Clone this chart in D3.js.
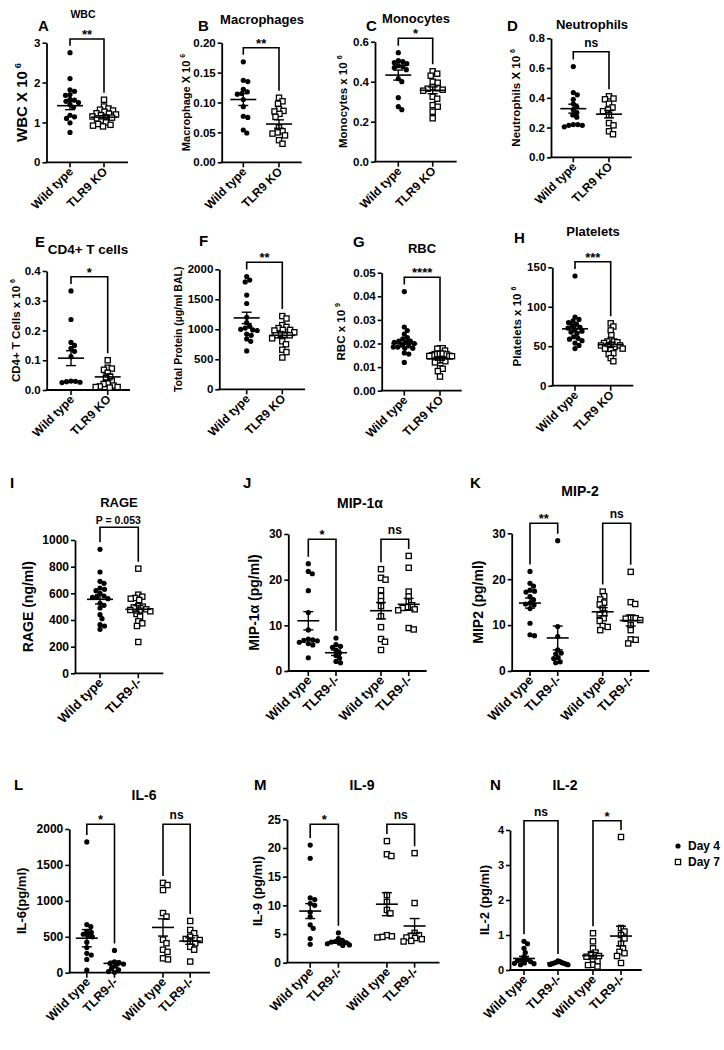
<!DOCTYPE html>
<html><head><meta charset="utf-8">
<script src="https://cdn.jsdelivr.net/npm/d3@7"></script>
<style>
body{margin:0;background:#fff}
svg{display:block}
text{font-family:"Liberation Sans",Arial,sans-serif;font-weight:bold;fill:#000}
</style>
</head><body>
<svg id="fig" width="724" height="1050"></svg>
<script>
// ---------------- DATA ----------------
const catsKO = ["Wild type", "TLR9 KO"];
const catsMinus = ["Wild type", "TLR9-/-"];
const catsFour = ["Wild type", "TLR9-/-", "Wild type", "TLR9-/-"];
const dayLegend = ["Day 4", "Day 7"];

const wbcWT = [2.75, 2.1, 1.82, 1.78, 1.7, 1.68, 1.58, 1.56, 1.53, 1.5, 1.45, 1.38, 1.18, 1.14, 1.1, 0.99, 0.75];
const wbcKO = [1.57, 1.4, 1.35, 1.32, 1.3, 1.27, 1.23, 1.22, 1.2, 1.18, 1.15, 1.13, 1.12, 1.1, 1.05, 1.0, 0.96, 0.94, 0.92, 0.9];
const wbcMean = [1.42, 1.13], wbcSem = [0.1, 0.04];
const wbcTicks = [0, 1, 2, 3];

const macWT = [0.168, 0.137, 0.135, 0.122, 0.118, 0.115, 0.114, 0.105, 0.093, 0.077, 0.075, 0.054, 0.049];
const macKO = [0.108, 0.102, 0.098, 0.089, 0.086, 0.085, 0.081, 0.076, 0.058, 0.052, 0.05, 0.048, 0.045, 0.037, 0.031];
const macMean = [0.105, 0.064], macSem = [0.01, 0.007];
const macTicks = [0, 0.05, 0.1, 0.15, 0.2];

const monoWT = [0.545, 0.505, 0.5, 0.495, 0.49, 0.48, 0.475, 0.47, 0.46, 0.415, 0.4, 0.32, 0.275, 0.26];
const monoKO = [0.452, 0.44, 0.43, 0.4, 0.395, 0.372, 0.367, 0.365, 0.36, 0.355, 0.325, 0.315, 0.283, 0.275, 0.25, 0.217];
const monoMean = [0.433, 0.357], monoSem = [0.025, 0.017];
const monoTicks = [0, 0.2, 0.4, 0.6];

const neutWT = [0.61, 0.435, 0.42, 0.39, 0.36, 0.34, 0.32, 0.3, 0.285, 0.27, 0.22, 0.22, 0.215, 0.215, 0.205];
const neutKO = [0.41, 0.395, 0.39, 0.36, 0.335, 0.32, 0.31, 0.285, 0.23, 0.215, 0.175, 0.155];
const neutMean = [0.327, 0.29], neutSem = [0.03, 0.025];
const neutTicks = [0, 0.2, 0.4, 0.6, 0.8];

const cd4WT = [0.333, 0.237, 0.16, 0.15, 0.14, 0.13, 0.112, 0.03, 0.029, 0.028, 0.026, 0.025];
const cd4KO = [0.1, 0.075, 0.072, 0.068, 0.058, 0.045, 0.04, 0.03, 0.022, 0.02, 0.015, 0.012, 0.01, 0.01, 0.008];
const cd4Mean = [0.107, 0.044], cd4Sem = [0.025, 0.01];
const cd4Ticks = [0, 0.1, 0.2, 0.3, 0.4];

const protWT = [1880, 1820, 1790, 1570, 1430, 1200, 1110, 1050, 1020, 1000, 990, 980, 920, 900, 840, 800, 640];
const protKO = [1220, 1180, 1070, 1040, 1020, 990, 990, 980, 950, 920, 910, 900, 900, 850, 800, 750, 660, 620, 530];
const protMean = [1190, 900], protSem = [95, 40];
const protTicks = [0, 500, 1000, 1500, 2000];

const rbcWT = [0.042, 0.027, 0.0255, 0.024, 0.0225, 0.022, 0.021, 0.021, 0.0205, 0.0205, 0.02, 0.0195, 0.019, 0.0185, 0.0185, 0.018, 0.018, 0.016, 0.0155, 0.012];
const rbcKO = [0.018, 0.018, 0.0178, 0.017, 0.0158, 0.0157, 0.0156, 0.0155, 0.0154, 0.015, 0.0148, 0.0147, 0.0146, 0.013, 0.013, 0.0128, 0.0125, 0.012, 0.0095, 0.0093, 0.0083, 0.006];
const rbcMean = [0.0199, 0.0135], rbcSem = [0.0013, 0.0006];
const rbcTicks = [0, 0.01, 0.02, 0.03, 0.04, 0.05];

const pltWT = [139, 87, 84, 82, 80, 78, 76, 74, 73, 71, 69, 68, 66, 62, 60, 59, 57, 54, 51, 47];
const pltKO = [79, 75, 70, 64, 58, 56, 56, 55, 54, 52, 51, 51, 50, 49, 47, 47, 45, 41, 40, 35, 31];
const pltMean = [72, 52], pltSem = [4, 2.5];
const pltTicks = [0, 50, 100, 150];

const rageWT = [930, 760, 690, 675, 640, 630, 620, 600, 580, 575, 570, 560, 525, 510, 490, 440, 410, 365, 355, 330];
const rageKO = [785, 590, 575, 565, 560, 550, 505, 500, 495, 480, 475, 470, 465, 445, 425, 390, 375, 355, 235];
const rageMean = [555, 480], rageSem = [35, 28];
const rageTicks = [0, 200, 400, 600, 800, 1000];

const mip1aWT4 = [23.5, 21.8, 21.3, 17.6, 12.8, 9, 7, 6.8, 6.7, 6.6, 6.3, 6, 5.7, 2.9];
const mip1aKO4 = [7.2, 5.8, 5.4, 5.2, 4.6, 4, 3.4, 2.8, 2.1, 1.8];
const mip1aWT7 = [22.3, 20.4, 20, 17.7, 16.4, 15.3, 14.2, 12, 9.6, 7, 6.4, 4.6];
const mip1aKO7 = [25.2, 22.6, 17.4, 16.3, 15.2, 14.4, 14, 13.8, 13.5, 13.3, 9.4, 9.1];
const mip1aMean = [11, 4.0, 13.2, 14.6], mip1aSem = [2, 0.6, 1.8, 1.3];
const mipTicks = [0, 10, 20, 30];

const mip2WT4 = [21.7, 19.1, 18.5, 17.6, 17.4, 17.2, 16.2, 15.5, 14.8, 14.6, 14.4, 13.6, 10.4, 7.9, 7.7];
const mip2KO4 = [28.4, 9.7, 7.5, 4.6, 3.9, 3.7, 2.9, 2.7, 2.0, 1.8];
const mip2WT7 = [17.3, 16.3, 15.6, 14.9, 14.5, 13.6, 12.6, 12.2, 11.5, 10.9, 9.8, 9.6, 8.9];
const mip2KO7 = [21.6, 15, 14.6, 11.6, 11.5, 11.4, 11.1, 10, 8.9, 6.9, 6.8, 6.0];
const mip2Mean = [14.8, 7.2, 12.9, 11.0], mip2Sem = [1.1, 2.6, 0.9, 1.2];

const il6WT4 = [1820, 670, 640, 575, 560, 535, 515, 500, 425, 350, 270, 245, 185, 35];
const il6KO4 = [310, 150, 140, 130, 120, 90, 60, 40, 15, 5];
const il6WT7 = [1250, 1220, 1150, 830, 780, 460, 410, 320, 290, 200, 185];
const il6KO7 = [720, 595, 550, 500, 480, 470, 455, 430, 410, 360, 320, 155];
const il6Mean = [480, 130, 630, 440], il6Sem = [120, 30, 120, 45];
const il6Ticks = [0, 500, 1000, 1500, 2000];

const il9WT4 = [20.5, 18.2, 11.3, 11, 10.3, 10, 8.8, 8, 6.6, 6, 4.2, 3.2];
const il9KO4 = [5.2, 4.2, 3.9, 3.7, 3.6, 3.5, 3.4, 3.3, 3.1, 3.0];
const il9WT7 = [21.2, 18.9, 18.6, 11.8, 10.6, 9.2, 8.6, 4.8, 4.6, 4.5, 4.4];
const il9KO7 = [19.1, 10.4, 5.2, 4.8, 4.7, 4.4, 4.3, 4.1, 3.8, 3.7];
const il9Mean = [9.0, 3.6, 10.2, 6.4], il9Sem = [1.3, 0.2, 2.0, 1.3];
const il9Ticks = [0, 5, 10, 15, 20, 25];

const il2WT4 = [0.82, 0.75, 0.62, 0.5, 0.38, 0.3, 0.28, 0.27, 0.24, 0.2, 0.19, 0.18, 0.15];
const il2KO4 = [0.26, 0.24, 0.22, 0.21, 0.2, 0.19, 0.18, 0.17, 0.16, 0.15];
const il2WT7 = [1.05, 0.82, 0.62, 0.5, 0.45, 0.4, 0.38, 0.3, 0.25, 0.15, 0.14, 0.1];
const il2KO7 = [3.8, 1.2, 1.1, 1.0, 0.9, 0.75, 0.62, 0.52, 0.48, 0.4, 0.2];
const il2Mean = [0.33, 0.2, 0.41, 0.97], il2Sem = [0.06, 0.012, 0.09, 0.28];
const il2Ticks = [0, 1, 2, 3, 4];

// ---------------- LAYOUT ----------------
const f0 = d3.format("d"), f1 = d3.format(".1f"), f2 = d3.format(".2f");
const two = ["dot", "sq"], four = ["dot", "dot", "sq", "sq"];

const panels = [
 {L:"A", Lp:[38,31], title:"WBC", tp:[83,18], ts:10.5, yl:["WBC X 10","6"], ylx:22, yls:15,
  x0:46.5, x1:128, yTop:42.7, yBot:162.3, dom:[0,3], ticks:wbcTicks, fmt:f0, catX:[70,104], cats:catsKO,
  groups:[wbcWT, wbcKO], shapes:two, mean:wbcMean, sem:wbcSem, br:[{a:0,b:1,y:39,t:"**"}], cs:12, tk:11.5, mw:13, cap:12},
 {L:"B", Lp:[198,31], title:"Macrophages", tp:[262,24], ts:13, yl:["Macrophage X 10","6"], ylx:186, yls:11,
  x0:221.7, x1:301.7, yTop:42.7, yBot:162.3, dom:[0,0.2], ticks:macTicks, fmt:f2, catX:[243.3,279], cats:catsKO,
  groups:[macWT, macKO], shapes:two, mean:macMean, sem:macSem, br:[{a:0,b:1,y:47.7,t:"**"}], cs:12, tk:11.5, mw:13, cap:12},
 {L:"C", Lp:[366,31], title:"Monocytes", tp:[416,23], ts:13, yl:["Monocytes x 10","6"], ylx:343, yls:11.5,
  x0:375, x1:456.7, yTop:41.7, yBot:161.7, dom:[0,0.6], ticks:monoTicks, fmt:f1, catX:[398.3,432.7], cats:catsKO,
  groups:[monoWT, monoKO], shapes:two, mean:monoMean, sem:monoSem, br:[{a:0,b:1,y:38.3,t:"*"}], cs:12, tk:11.5, mw:13, cap:12},
 {L:"D", Lp:[507,31], title:"Neutrophils", tp:[592,29], ts:13, yl:["Neutrophils X 10","6"], ylx:516, yls:11.5,
  x0:551, x1:631.7, yTop:38.3, yBot:157.3, dom:[0,0.8], ticks:neutTicks, fmt:f1, catX:[573.3,609], cats:catsKO,
  groups:[neutWT, neutKO], shapes:two, mean:neutMean, sem:neutSem, br:[{a:0,b:1,y:51.7,t:"ns"}], cs:12, tk:11.5, mw:13, cap:12},

 {L:"E", Lp:[35,247], title:"CD4+ T cells", tp:[88,254], ts:13.5, yl:["CD4+ T Cells x 10","6"], ylx:16, yls:11.5,
  x0:46.7, x1:130, yTop:271, yBot:390, dom:[0,0.4], ticks:cd4Ticks, fmt:f1, catX:[71,107.7], cats:catsKO,
  groups:[cd4WT, cd4KO], shapes:two, mean:cd4Mean, sem:cd4Sem, br:[{a:0,b:1,y:276.7,t:"*"}], cs:12, tk:11.5, mw:13, cap:12},
 {L:"F", Lp:[199,246], title:"", tp:[0,0], ts:13, yl:["Total Protein (µg/ml BAL)",""], ylx:178, yls:10.5,
  x0:219.3, x1:305, yTop:269.3, yBot:389.3, dom:[0,2000], ticks:protTicks, fmt:f0, catX:[246.7,282.3], cats:catsKO,
  groups:[protWT, protKO], shapes:two, mean:protMean, sem:protSem, br:[{a:0,b:1,y:262.3,t:"**"}], cs:12, tk:11.5, mw:13, cap:12},
 {L:"G", Lp:[353,247], title:"RBC", tp:[422,253], ts:13, yl:["RBC x 10","9"], ylx:341, yls:11.5,
  x0:381.7, x1:461.7, yTop:272.7, yBot:390.7, dom:[0,0.05], ticks:rbcTicks, fmt:f2, catX:[404.3,440], cats:catsKO,
  groups:[rbcWT, rbcKO], shapes:two, mean:rbcMean, sem:rbcSem, br:[{a:0,b:1,y:277.3,t:"****"}], cs:12, tk:11.5, mw:13, cap:12},
 {L:"H", Lp:[514,243], title:"Platelets", tp:[593,236], ts:13, yl:["Platelets x 10","6"], ylx:517, yls:11.5,
  x0:552.3, x1:633.3, yTop:267.3, yBot:385.7, dom:[0,150], ticks:pltTicks, fmt:f0, catX:[575,610.7], cats:catsKO,
  groups:[pltWT, pltKO], shapes:two, mean:pltMean, sem:pltSem, br:[{a:0,b:1,y:261.7,t:"***"}], cs:12, tk:11.5, mw:13, cap:12},

 {L:"I", Lp:[10,488], title:"RAGE", tp:[119,507], ts:13, yl:["RAGE (ng/ml)",""], ylx:28, yls:14,
  x0:75, x1:163.3, yTop:540, yBot:673.3, dom:[0,1000], ticks:rageTicks, fmt:f0, catX:[100,138.3], cats:catsMinus,
  groups:[rageWT, rageKO], shapes:two, mean:rageMean, sem:rageSem, br:[{a:0,b:1,y:527.3,t:""}], cs:13, tk:12, mw:13, cap:12,
  extra:{t:"P = 0.053", x:118.3, y:524, s:10.5}},
 {L:"J", Lp:[243,488], title:"MIP-1α", tp:[360,508], ts:14, yl:["MIP-1α (pg/ml)",""], ylx:254, yls:14,
  x0:288.3, x1:426.7, yTop:534, yBot:671, dom:[0,30], ticks:mipTicks, fmt:f0, catX:[308.3,336,381,408.7], cats:catsFour,
  groups:[mip1aWT4, mip1aKO4, mip1aWT7, mip1aKO7], shapes:four, mean:mip1aMean, sem:mip1aSem,
  br:[{a:0,b:1,y:539.3,t:"*"},{a:2,b:3,y:539.3,t:"ns"}], cs:13, tk:12, mw:11, cap:11},
 {L:"K", Lp:[470,488], title:"MIP-2", tp:[580,496], ts:14, yl:["MIP2 (pg/ml)",""], ylx:478, yls:14,
  x0:511.7, x1:649.3, yTop:533.3, yBot:671, dom:[0,30], ticks:mipTicks, fmt:f0, catX:[530,557.7,602.7,630.7], cats:catsFour,
  groups:[mip2WT4, mip2KO4, mip2WT7, mip2KO7], shapes:four, mean:mip2Mean, sem:mip2Sem,
  br:[{a:0,b:1,y:523.3,t:"**"},{a:2,b:3,y:523.3,t:"ns"}], cs:13, tk:12, mw:11, cap:11},

 {L:"L", Lp:[14,790], title:"IL-6", tp:[144,800], ts:14, yl:["IL-6(pg/ml)",""], ylx:21, yls:13,
  x0:69.3, x1:210, yTop:829, yBot:972.7, dom:[0,2000], ticks:il6Ticks, fmt:f0, catX:[86.8,114.5,163,190.2], cats:catsFour,
  groups:[il6WT4, il6KO4, il6WT7, il6KO7], shapes:four, mean:il6Mean, sem:il6Sem,
  br:[{a:0,b:1,y:824.3,t:"*"},{a:2,b:3,y:824.3,t:"ns"}], cs:12.5, tk:12, mw:11, cap:11},
 {L:"M", Lp:[254,790], title:"IL-9", tp:[362,790], ts:14, yl:["IL-9 (pg/ml)",""], ylx:257, yls:13,
  x0:287, x1:439.5, yTop:819.3, yBot:962.7, dom:[0,25], ticks:il9Ticks, fmt:f0, catX:[310.2,338.4,386.9,414.6], cats:catsFour,
  groups:[il9WT4, il9KO4, il9WT7, il9KO7], shapes:four, mean:il9Mean, sem:il9Sem,
  br:[{a:0,b:1,y:824.3,t:"*"},{a:2,b:3,y:824.3,t:"ns"}], cs:12.5, tk:12, mw:11, cap:11},
 {L:"N", Lp:[490,790], title:"IL-2", tp:[565,790], ts:14, yl:["IL-2 (pg/ml)",""], ylx:484, yls:13,
  x0:510, x1:641.7, yTop:830, yBot:970, dom:[0,4], ticks:il2Ticks, fmt:f0, catX:[524,558,593,621], cats:catsFour,
  groups:[il2WT4, il2KO4, il2WT7, il2KO7], shapes:four, mean:il2Mean, sem:il2Sem,
  br:[{a:0,b:1,y:820.7,t:"ns"},{a:2,b:3,y:820.7,t:"*"}], cs:12.5, tk:11, mw:11, cap:10}
];

const svg = d3.select("#fig");
const DOT_R = 2.6, SQ = 5.2;

function swarm(vals, y, d, cap) {
  const pts = vals.map(v => ({v, py: y(v)})).sort((a, b) => a.py - b.py);
  const placed = [];
  for (const p of pts) {
    let best = 0;
    outer: for (let k = 0; k < 200; k++) {
      const c = k === 0 ? [0] : [k * 0.5, -k * 0.5];
      for (const dx of c) {
        if (placed.every(q => (q.dx - dx) ** 2 + (q.py - p.py) ** 2 >= d * d)) { best = dx; break outer; }
      }
    }
    p.dx = best; placed.push(p);
  }
  const mx = d3.max(pts, p => Math.abs(p.dx));
  if (mx > cap) pts.forEach(p => p.dx *= cap / mx);
  return pts;
}

function drawPanel(p) {
  const g = svg.append("g");
  const y = d3.scaleLinear().domain(p.dom).range([p.yBot, p.yTop]);
  const x = d3.scaleOrdinal().domain(d3.range(p.cats.length)).range(p.catX);

  // y axis
  const yg = g.append("g").attr("transform", `translate(${p.x0},0)`)
    .call(d3.axisLeft(y).tickValues(p.ticks).tickFormat(p.fmt).tickSize(4).tickSizeOuter(0).tickPadding(2));
  yg.attr("font-size", p.tk);
  yg.select(".domain").attr("stroke-width", 1.8);
  yg.selectAll(".tick line").attr("stroke-width", 1.6);

  // x axis
  g.append("line").attr("x1", p.x0 - 0.9).attr("x2", p.x1).attr("y1", p.yBot).attr("y2", p.yBot)
    .attr("stroke", "#000").attr("stroke-width", 1.8);
  p.cats.forEach((c, i) => {
    g.append("line").attr("x1", x(i)).attr("x2", x(i)).attr("y1", p.yBot).attr("y2", p.yBot + 5)
      .attr("stroke", "#000").attr("stroke-width", 1.6);
    g.append("text").attr("text-anchor", "end").attr("font-size", p.cs)
      .attr("transform", `translate(${x(i) + 4},${p.yBot + 10}) rotate(-45)`).text(c);
  });

  // points
  p.groups.forEach((vals, i) => {
    const sq = p.shapes[i] === "sq";
    const pts = swarm(vals, y, sq ? 4.8 : 4.4, p.cap);
    const cx = x(i);
    if (sq) {
      g.append("g").selectAll("rect").data(pts).join("rect")
        .attr("x", d => cx + d.dx - SQ / 2).attr("y", d => d.py - SQ / 2)
        .attr("width", SQ).attr("height", SQ).attr("fill", "#fff").attr("stroke", "#000").attr("stroke-width", 1.3);
    } else {
      g.append("g").selectAll("circle").data(pts).join("circle")
        .attr("cx", d => cx + d.dx).attr("cy", d => d.py).attr("r", DOT_R).attr("fill", "#000");
    }
    // mean & sem
    const m = p.mean[i], s = p.sem[i];
    g.append("line").attr("x1", cx - p.mw).attr("x2", cx + p.mw).attr("y1", y(m)).attr("y2", y(m))
      .attr("stroke", "#000").attr("stroke-width", 1.6);
    g.append("line").attr("x1", cx).attr("x2", cx).attr("y1", y(m - s)).attr("y2", y(m + s))
      .attr("stroke", "#000").attr("stroke-width", 1.4);
    [m - s, m + s].forEach(v => g.append("line").attr("x1", cx - 5).attr("x2", cx + 5).attr("y1", y(v)).attr("y2", y(v))
      .attr("stroke", "#000").attr("stroke-width", 1.4));
  });

  // brackets
  p.br.forEach(b => {
    const ya = y(d3.max(p.groups[b.a])) - 7, yb = y(d3.max(p.groups[b.b])) - 7;
    g.append("path").attr("d", `M${x(b.a)},${ya}V${b.y}H${x(b.b)}V${yb}`)
      .attr("fill", "none").attr("stroke", "#000").attr("stroke-width", 1.6);
    if (b.t) {
      const ns = b.t === "ns";
      g.append("text").attr("text-anchor", "middle").attr("font-size", ns ? 12 : 13)
        .attr("x", (x(b.a) + x(b.b)) / 2).attr("y", b.y - (ns ? 5 : 0)).text(b.t);
    }
  });

  // texts
  g.append("text").attr("x", p.Lp[0]).attr("y", p.Lp[1]).attr("font-size", 15).text(p.L);
  if (p.title) g.append("text").attr("x", p.tp[0]).attr("y", p.tp[1]).attr("text-anchor", "middle")
    .attr("font-size", p.ts).text(p.title);
  if (p.extra) g.append("text").attr("x", p.extra.x).attr("y", p.extra.y).attr("text-anchor", "middle")
    .attr("font-size", p.extra.s).text(p.extra.t);
  const cy = (p.yTop + p.yBot) / 2;
  const yl = g.append("text").attr("text-anchor", "middle").attr("font-size", p.yls)
    .attr("transform", `translate(${p.ylx},${cy}) rotate(-90)`).attr("dy", "0.35em");
  yl.append("tspan").text(p.yl[0]);
  if (p.yl[1]) yl.append("tspan").attr("font-size", p.yls * 0.62).attr("dx", 3).attr("dy", -p.yls * 0.45).text(p.yl[1]);
}

panels.forEach(drawPanel);

// legend
const lg = svg.append("g");
lg.append("circle").attr("cx", 678).attr("cy", 846).attr("r", DOT_R).attr("fill", "#000");
lg.append("rect").attr("x", 678 - SQ / 2).attr("y", 862 - SQ / 2).attr("width", SQ).attr("height", SQ)
  .attr("fill", "#fff").attr("stroke", "#000").attr("stroke-width", 1.3);
dayLegend.forEach((t, i) => lg.append("text").attr("x", 688).attr("y", 846 + i * 16).attr("dy", "0.35em")
  .attr("font-size", 12).text(t));
</script>
</body></html>
